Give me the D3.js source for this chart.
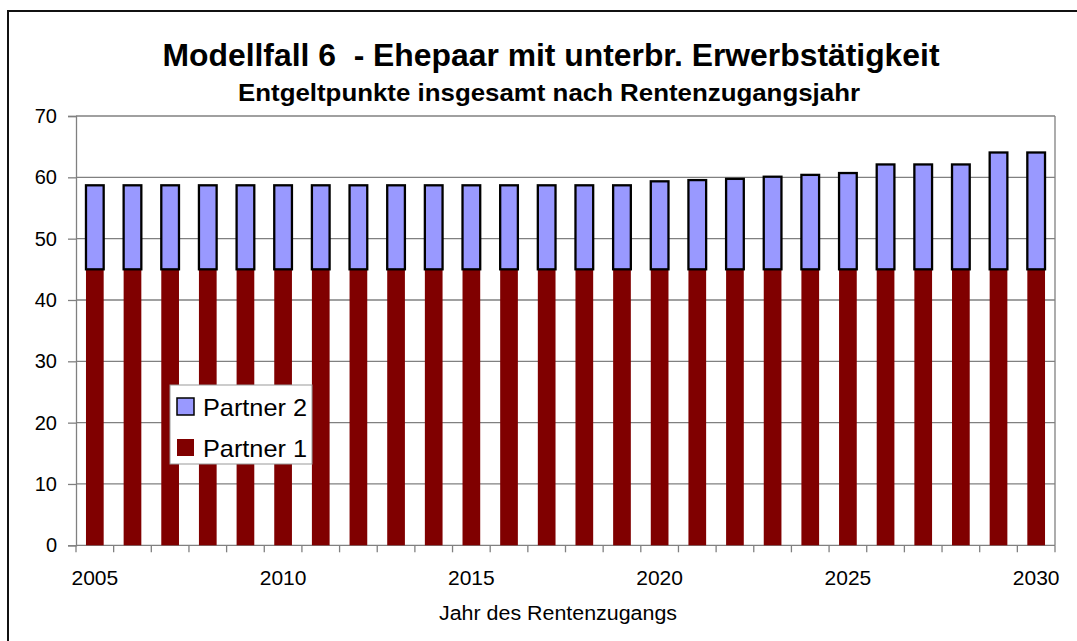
<!DOCTYPE html>
<html>
<head>
<meta charset="utf-8">
<script src="https://cdn.jsdelivr.net/npm/d3@7"></script>
<style>
  html, body { margin: 0; padding: 0; background: #fff; }
  svg { display: block; font-family: Arial, "Liberation Sans", sans-serif; }
  text { white-space: pre; }
</style>
</head>
<body>
<svg id="chart" width="1077" height="641"></svg>
<script>
// Entgeltpunkte per Rentenzugangsjahr, stacked by partner
const years = d3.range(2005, 2031);
const partner1 = [45,45,45,45,45,45,45,45,45,45,45,45,45,45,45,45,45,45,45,45,45,45,45,45,45,45];
const totals   = [58.7,58.7,58.7,58.7,58.7,58.7,58.7,58.7,58.7,58.7,58.7,58.7,58.7,58.7,58.7,
                  59.35,59.55,59.75,60.1,60.4,60.7,62.1,62.1,62.1,64.05,64.05];
const partner2 = totals.map((t, i) => +(t - partner1[i]).toFixed(2));
const yTicks = [0, 10, 20, 30, 40, 50, 60, 70];
const xTickLabels = [2005, 2010, 2015, 2020, 2025, 2030];
const seriesNames = ["Partner 1", "Partner 2"];
const seriesColors = ["#800000", "#9999FF"];

const svg = d3.select("#chart");
const plot = { left: 76, right: 1055, top: 116, bottom: 545.3 };

// outer chart frame (open to the right and bottom)
svg.append("path")
  .attr("d", "M8,641 L8,11 L1077,11")
  .attr("fill", "none").attr("stroke", "#111").attr("stroke-width", 2);

// titles
svg.append("text")
  .attr("x", 551).attr("y", 66).attr("text-anchor", "middle")
  .attr("font-size", 31).attr("font-weight", "bold")
  .attr("textLength", 777).attr("lengthAdjust", "spacingAndGlyphs")
  .text("Modellfall 6  - Ehepaar mit unterbr. Erwerbstätigkeit");
svg.append("text")
  .attr("x", 549).attr("y", 101).attr("text-anchor", "middle")
  .attr("font-size", 24).attr("font-weight", "bold")
  .attr("textLength", 622).attr("lengthAdjust", "spacingAndGlyphs")
  .text("Entgeltpunkte insgesamt nach Rentenzugangsjahr");

const x = d3.scaleBand().domain(years).range([plot.left, plot.right]).paddingInner(0.53).paddingOuter(0.265);
const xEdge = d3.scaleBand().domain(years).range([plot.left, plot.right]);
const y = d3.scaleLinear().domain([0, 70]).range([plot.bottom, plot.top]);

// gridlines
svg.append("g").selectAll("line").data(yTicks.filter(d => d > 0)).join("line")
  .attr("x1", plot.left).attr("x2", plot.right)
  .attr("y1", d => y(d)).attr("y2", d => y(d))
  .attr("stroke", "#808080").attr("stroke-width", 1.3);

// right plot border
svg.append("line")
  .attr("x1", plot.right).attr("x2", plot.right)
  .attr("y1", plot.top).attr("y2", plot.bottom)
  .attr("stroke", "#808080").attr("stroke-width", 1.3);

// y axis
const yAxis = svg.append("g").attr("transform", `translate(${plot.left},0)`)
  .call(d3.axisLeft(y).tickValues(yTicks).tickSize(8).tickPadding(11));
yAxis.select(".domain").attr("stroke", "#808080").attr("stroke-width", 1.3);
yAxis.selectAll(".tick line").attr("stroke", "#808080").attr("stroke-width", 1.3);
yAxis.selectAll(".tick text").attr("font-size", 20).attr("fill", "#000")
  .attr("font-family", "Arial, 'Liberation Sans', sans-serif");

// x axis: ticks on category boundaries, labels every 5 years
const xg = svg.append("g").attr("transform", `translate(0,${plot.bottom})`);
xg.append("line").attr("x1", plot.left).attr("x2", plot.right)
  .attr("stroke", "#808080").attr("stroke-width", 1.3);
const boundaries = years.map(d => xEdge(d)).concat([plot.right]);
xg.selectAll("line.tk").data(boundaries).join("line").attr("class", "tk")
  .attr("x1", d => d).attr("x2", d => d).attr("y1", 0).attr("y2", 7)
  .attr("stroke", "#808080").attr("stroke-width", 1.3);
xg.selectAll("text").data(xTickLabels).join("text")
  .attr("x", d => x(d) + x.bandwidth() / 2).attr("y", 39.5)
  .attr("text-anchor", "middle").attr("font-size", 21).text(d => d);

svg.append("text")
  .attr("x", 558).attr("y", 620).attr("text-anchor", "middle")
  .attr("font-size", 20).attr("textLength", 238).attr("lengthAdjust", "spacingAndGlyphs")
  .text("Jahr des Rentenzugangs");

// stacked bars
const rows = years.map((yr, i) => ({ year: yr, "Partner 1": partner1[i], "Partner 2": partner2[i] }));
const stacked = d3.stack().keys(seriesNames)(rows);
stacked.forEach((layer, li) => {
  svg.append("g").selectAll("rect").data(layer).join("rect")
    .attr("x", d => x(d.data.year))
    .attr("width", x.bandwidth())
    .attr("y", d => y(d[1]))
    .attr("height", d => y(d[0]) - y(d[1]))
    .attr("fill", seriesColors[li])
    .attr("stroke", li === 1 ? "#000" : "none")
    .attr("stroke-width", 2.3);
});

// legend
const lg = svg.append("g").attr("transform", "translate(170,385)");
lg.append("rect").attr("width", 142).attr("height", 79)
  .attr("fill", "#fff").attr("stroke", "#999").attr("stroke-width", 1);
const legendItems = [
  { name: "Partner 2", color: seriesColors[1], stroke: "#000", top: 13 },
  { name: "Partner 1", color: seriesColors[0], stroke: "none", top: 54 }
];
legendItems.forEach(it => {
  lg.append("rect").attr("x", 7).attr("y", it.top).attr("width", 17).attr("height", 17)
    .attr("fill", it.color).attr("stroke", it.stroke).attr("stroke-width", 1.5);
  lg.append("text").attr("x", 33).attr("y", it.top + 17.5).attr("font-size", 24)
    .attr("textLength", 104).attr("lengthAdjust", "spacingAndGlyphs").text(it.name);
});
</script>
</body>
</html>
